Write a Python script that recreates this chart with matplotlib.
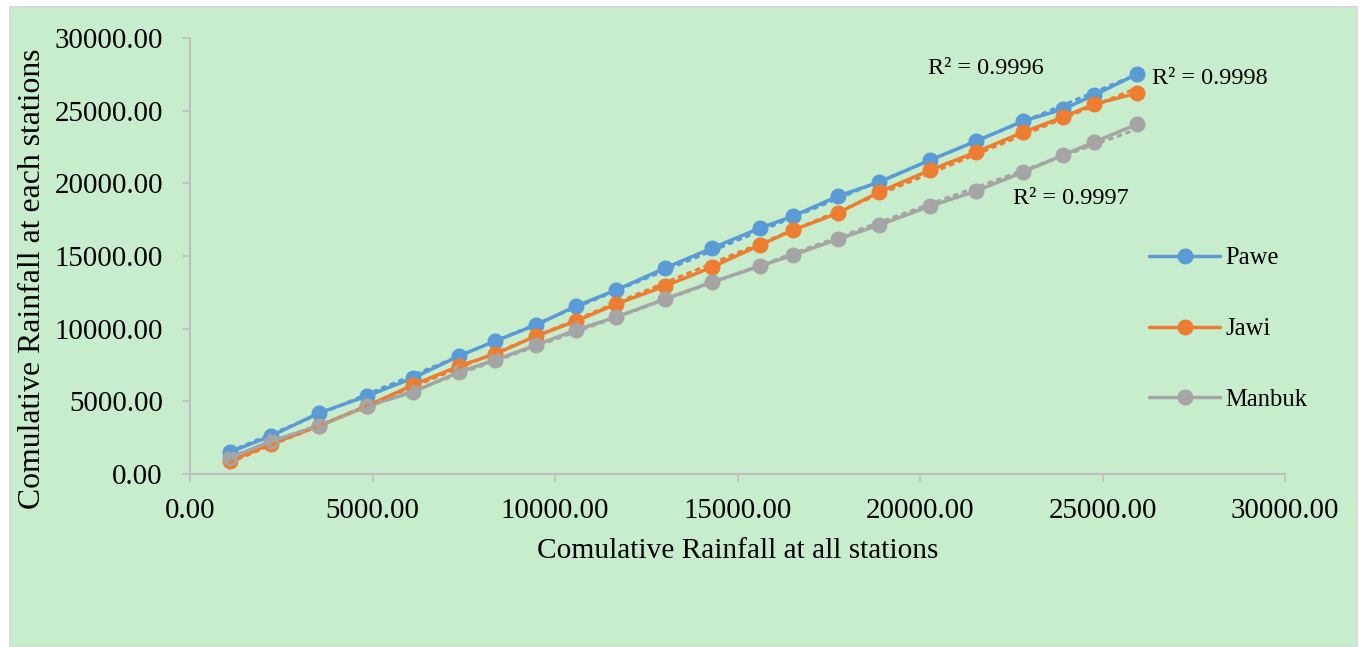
import numpy as np
import matplotlib
matplotlib.use("Agg")
import matplotlib.pyplot as plt
from matplotlib.patches import Rectangle

# ---- data ----
x_all = [1096, 2219, 3534, 4849, 6110, 7370, 8356, 9479, 10575, 11671, 13014,
         14301, 15616, 16521, 17753, 18877, 20274, 21534, 22822, 23918, 24767, 25945]
pawe = [1513, 2614, 4195, 5365, 6603, 8116, 9147, 10248, 11554, 12655, 14168,
        15543, 16919, 17744, 19120, 20083, 21596, 22902, 24278, 25103, 26066, 27510]
jawi = [894, 2063, 3301, 4677, 6121, 7428, 8253, 9491, 10523, 11692, 12930,
        14237, 15750, 16781, 17950, 19395, 20908, 22146, 23521, 24553, 25447, 26204]
manbuk = [1100, 2270, 3301, 4677, 5640, 7015, 7840, 8872, 9904, 10798, 12036,
          13205, 14305, 15062, 16162, 17125, 18432, 19464, 20771, 21940, 22834, 24072]
series_names = ["Pawe", "Jawi", "Manbuk"]
r2_labels = ["R² = 0.9996", "R² = 0.9998", "R² = 0.9997"]
x_ticks = [0, 5000, 10000, 15000, 20000, 25000, 30000]
y_ticks = [0, 5000, 10000, 15000, 20000, 25000, 30000]

colors = ["#5B9BD5", "#ED7D31", "#A5A5A5"]
bg = "#C7EDCC"

plt.rcParams['font.family'] = ['Liberation Serif', 'DejaVu Serif']

fig = plt.figure(figsize=(13.62, 6.47), dpi=100)
fig.patch.set_facecolor("white")
fig.patches.append(Rectangle((10/1362, 0), (1357-10)/1362, 1-7/647, transform=fig.transFigure,
                             facecolor=bg, edgecolor="#D9D9D9", linewidth=1.5, zorder=-10))

ax = fig.add_axes([190/1362, 1-474/647, (1285-190)/1362, (474-38)/647])
ax.set_zorder(1)
ax.patch.set_alpha(0)

handles = []
for ys, c, name in zip([pawe, jawi, manbuk], colors, series_names):
    h, = ax.plot(x_all, ys, color=c, lw=2.5, marker='o', markersize=10.5,
                 label=name, zorder=3, solid_capstyle='round')
    handles.append(h)
    k, b = np.polyfit(x_all, ys, 1)
    xs = np.array([x_all[0], x_all[-1]])
    ax.plot(xs, k*xs + b, color=c, lw=2.2, linestyle=(0, (1, 2)), zorder=4,
            dash_capstyle='round')

# R² labels
ax.text(20219, 27923, r2_labels[0], fontsize=17.5, va='center', ha='left')
ax.text(26356, 27235, r2_labels[1], fontsize=17.5, va='center', ha='left')
ax.text(22548, 18982, r2_labels[2], fontsize=17.5, va='center', ha='left')

ax.set_xlim(0, 30000)
ax.set_ylim(0, 30000)
ax.set_xticks(x_ticks)
ax.set_yticks(y_ticks)
ax.set_xticklabels([f"{v:.2f}" for v in x_ticks])
ax.set_yticklabels([f"{v:.2f}" for v in y_ticks])
ax.tick_params(axis='both', labelsize=20.8, length=6, width=1.2, color="#BFBFBF",
               direction='out')
ax.tick_params(axis='x', pad=11.5)
ax.tick_params(axis='y', pad=13.5)
for s in ['top', 'right']:
    ax.spines[s].set_visible(False)
for s in ['left', 'bottom']:
    ax.spines[s].set_color("#BFBFBF")
    ax.spines[s].set_linewidth(1.5)

ax.set_xlabel("Comulative Rainfall at all stations", fontsize=21.2)
ax.set_ylabel("Comulative Rainfall at each stations", fontsize=22.9)
ax.xaxis.label.set_va('center')
ax.yaxis.label.set_va('center')
ax.xaxis.set_label_coords(0.5, -0.176)
ax.yaxis.set_label_coords(-0.1434, 0.448)

fig.legend(handles=handles, loc='center left', bbox_to_anchor=(1149/1362, 1-329/647),
           frameon=False, fontsize=17.7, handlelength=2.9, handletextpad=0.22,
           labelspacing=1.97, borderpad=0, borderaxespad=0)

fig.savefig("out.png", dpi=100, facecolor=fig.get_facecolor())
